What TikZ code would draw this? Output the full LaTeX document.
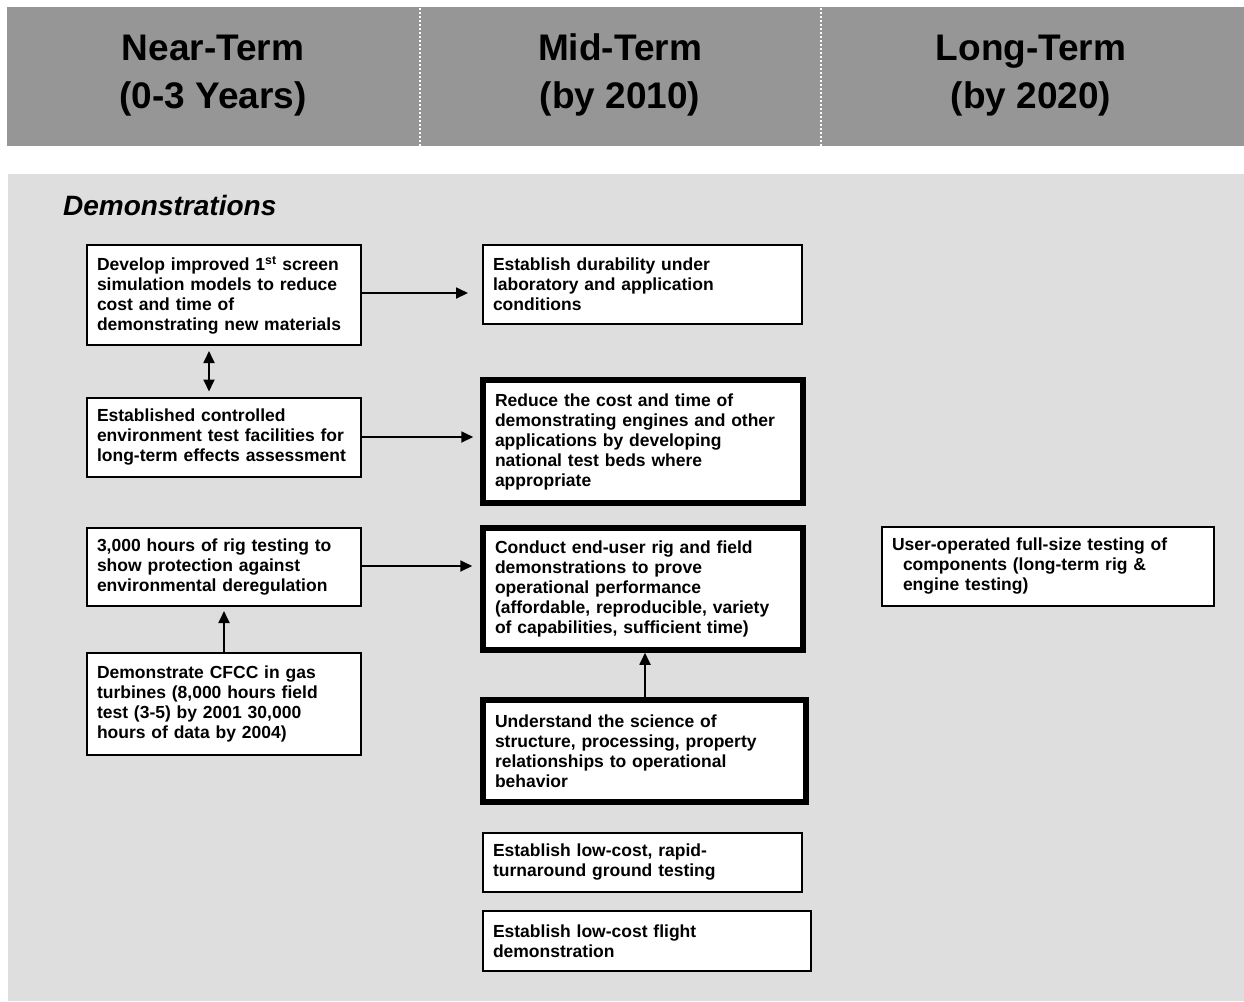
\documentclass[tikz,border=0pt]{standalone}
\usepackage{fontspec}
\setmainfont{Liberation Sans}
\usetikzlibrary{arrows.meta}
\begin{document}
\begin{tikzpicture}[x=1pt,y=-1pt,
  every node/.style={font=\bfseries},
  hdr/.style={font=\fontsize{37}{48}\selectfont\bfseries, align=center},
  thinbox/.style={draw=black, line width=2pt, fill=white, inner xsep=10pt, inner ysep=0pt,
    align=left, font=\fontsize{17.5}{20}\selectfont\bfseries},
  thickbox/.style={thinbox, line width=5.5pt, inner xsep=12pt},
  tip/.style={Triangle[length=12pt,width=11pt]},
  arr/.style={line width=1.8pt, -{Triangle[length=12pt,width=11pt]}},
  darr/.style={line width=1.8pt, {Triangle[length=12pt,width=11pt]}-{Triangle[length=12pt,width=11pt]}},
  sep/.style={draw=white, line width=1.6pt, dash pattern=on 2pt off 2pt}
]
% canvas
\useasboundingbox[fill=white] (0,0) rectangle (1244,1001);

% header band with the three time frames
\fill[black!41] (7,7) rectangle (1244,146);
\draw[sep] (420,8) -- (420,146);
\draw[sep, line width=2.6pt] (821,8) -- (821,146);
\node[hdr] (near) at (213,75) {\vphantom{Md}Near-Term\\(0-3 Years)};
\node[hdr] (mid)  at (620,75) {\vphantom{Md}Mid-Term\\(by 2010)};
\node[hdr] (long) at (1031,75) {\vphantom{Md}Long-Term\\(by 2020)};

% demonstrations panel
\fill[black!13] (8,174) rectangle (1244,1001);
\node[anchor=base west, font=\fontsize{28}{32}\selectfont\bfseries\itshape, inner sep=0pt]
  (title) at (63,215) {Demonstrations};

% near-term column
\node[thinbox, text width=254pt, minimum height=100pt] (A) at (224,295)
  {Develop improved 1\textsuperscript{st} screen\\simulation models to reduce\\cost and time of\\demonstrating new materials};
\node[thinbox, text width=254pt, minimum height=79pt] (C) at (224,437)
  {Established controlled\\environment test facilities for\\long-term effects assessment};
\node[thinbox, text width=254pt, minimum height=78pt] (E) at (224,567)
  {3,000 hours of rig testing to\\show protection against\\environmental deregulation};
\node[thinbox, text width=254pt, minimum height=102pt] (H) at (224,704)
  {Demonstrate CFCC in gas\\turbines (8,000 hours field\\test (3-5) by 2001 30,000\\hours of data by 2004)};

% mid-term column
\node[thinbox, text width=299pt, minimum height=79pt] (B) at (642.5,284.5)
  {Establish durability under\\laboratory and application\\conditions};
\node[thickbox, text width=296pt, minimum height=123pt] (D) at (643,441.5)
  {Reduce the cost and time of\\demonstrating engines and other\\applications by developing\\national test beds where\\appropriate};
\node[thickbox, text width=296pt, minimum height=122pt] (F) at (643,589)
  {Conduct end-user rig and field\\demonstrations to prove\\operational performance\\(affordable, reproducible, variety\\of capabilities, sufficient time)};
\node[thickbox, text width=299pt, minimum height=102pt] (I) at (644.5,751)
  {Understand the science of\\structure, processing, property\\relationships to operational\\behavior};
\node[thinbox, text width=299pt, minimum height=59pt] (J) at (642.5,862.5)
  {Establish low-cost, rapid-\\turnaround ground testing};
\node[thinbox, text width=308pt, minimum height=60pt] (K) at (647,941)
  {Establish low-cost flight\\demonstration};

% long-term column
\node[thinbox, text width=312pt, minimum height=79pt] (G) at (1048,566.5)
  {User-operated full-size testing of\\\hspace*{11pt}components (long-term rig \&\\\hspace*{11pt}engine testing)};

% connectors
\draw[arr, shorten >=14pt] (A.east |- 0,293) -- (B.west |- 0,293);
\draw[arr, shorten >=7pt]  (C.east |- 0,437) -- (D.west |- 0,437);
\draw[arr, shorten >=8pt]  (E.east |- 0,566) -- (F.west |- 0,566);
\draw[darr, shorten <=5pt, shorten >=5pt] ([xshift=-15pt]A.south) -- ([xshift=-15pt]C.north);
\draw[arr, shorten >=4pt] (H.north |- 0,653) -- (E.south);
\draw[arr] (I.north -| 645,0) -- (F.south -| 645,0);
\end{tikzpicture}
\end{document}
